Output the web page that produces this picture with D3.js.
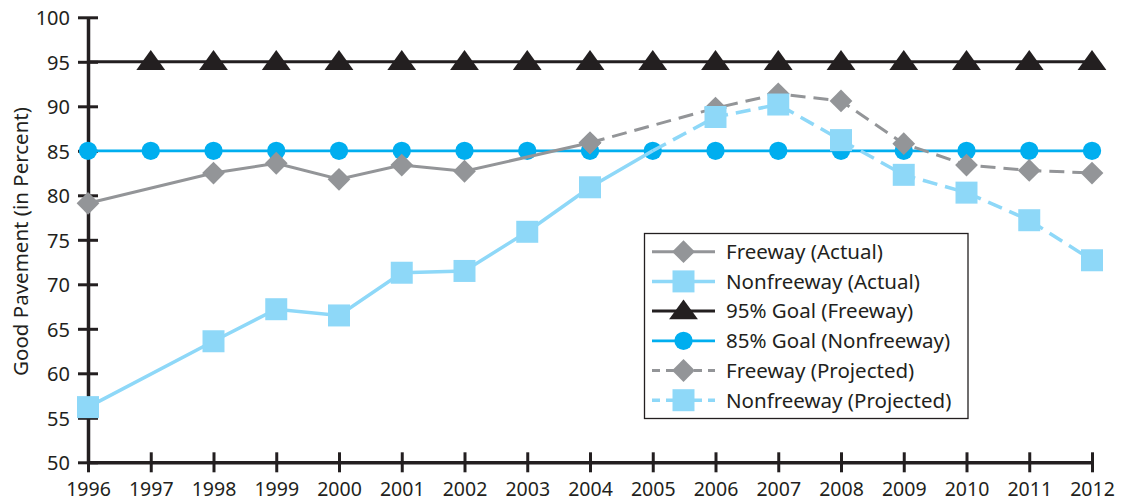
<!DOCTYPE html>
<html>
<head>
<meta charset="utf-8">
<script src="https://cdn.jsdelivr.net/npm/d3@7"></script>
<style>
  html, body { margin: 0; padding: 0; background: #ffffff; }
  svg { display: block; font-family: "Noto Sans", "Open Sans", sans-serif; }
</style>
</head>
<body>
<svg id="chart" width="1130" height="501"></svg>
<script>
// Year categories and tick labels
const yearTicks = [1996, 1997, 1998, 1999, 2000, 2001, 2002, 2003, 2004,
                   2005, 2006, 2007, 2008, 2009, 2010, 2011, 2012];
const percentTicks = [50, 55, 60, 65, 70, 75, 80, 85, 90, 95, 100];

// Freeway pavement in good condition
const freewayActualYears = [1996, 1998, 1999, 2000, 2001, 2002, 2004];
const freewayActual      = [79.1, 82.5, 83.6, 81.8, 83.4, 82.7, 85.9];
const freewayProjYears   = [2004, 2006, 2007, 2008, 2009, 2010, 2011, 2012];
const freewayProj        = [85.9, 89.8, 91.4, 90.6, 85.8, 83.4, 82.8, 82.5];

// Nonfreeway pavement in good condition
const nonfreewayActualYears = [1996, 1998, 1999, 2000, 2001, 2002, 2003, 2004, 2005];
const nonfreewayActual      = [56.2, 63.6, 67.2, 66.5, 71.3, 71.5, 75.9, 80.9, 85.0];
const nonfreewayProjYears   = [2005, 2006, 2007, 2008, 2009, 2010, 2011, 2012];
const nonfreewayProj        = [85.0, 88.8, 90.2, 86.2, 82.3, 80.3, 77.2, 72.7];
// the 2005 nonfreeway value is only a joining vertex, no marker is drawn there
const nonfreewayUnmarked = [2005];

// Goals
const goalLineYears = [1996, 2012];
const freewayGoalYears = [1997, 1998, 1999, 2000, 2001, 2002, 2003, 2004,
                          2005, 2006, 2007, 2008, 2009, 2010, 2011, 2012];
const freewayGoal = 95;
const nonfreewayGoalYears = [1996, 1997, 1998, 1999, 2000, 2001, 2002, 2003, 2004,
                             2005, 2006, 2007, 2008, 2009, 2010, 2011, 2012];
const nonfreewayGoal = 85;

const legendLabels = ["Freeway (Actual)", "Nonfreeway (Actual)", "95% Goal (Freeway)",
                      "85% Goal (Nonfreeway)", "Freeway (Projected)", "Nonfreeway (Projected)"];

const INK = "#231f20";
const GRAY = "#939598";
const LIGHT = "#8ed8f8";
const BLUE = "#00aeef";

const svg = d3.select("#chart");

const x = d3.scaleLinear().domain([1996, 2012]).range([88, 1092]);
const y = d3.scaleLinear().domain([50, 100]).range([462.3, 17.3]);

// marker shapes
const diamond = d3.symbol().type(d3.symbolSquare).size(260);
const square = d3.symbol().type(d3.symbolSquare).size(484);
const triangle = d3.symbol().type(d3.symbolTriangle).size(250);
const circle = d3.symbol().type(d3.symbolCircle).size(264);

function markerPath(kind, g, cx, cy, color) {
  if (kind === "diamond") {
    g.append("path").attr("d", diamond())
      .attr("transform", `translate(${cx},${cy}) rotate(45)`).attr("fill", color);
  } else if (kind === "square") {
    g.append("path").attr("d", square())
      .attr("transform", `translate(${cx},${cy})`).attr("fill", color);
  } else if (kind === "triangle") {
    g.append("path").attr("d", triangle())
      .attr("transform", `translate(${cx},${cy + 1.5}) scale(1.2,0.95)`).attr("fill", color);
  } else {
    g.append("path").attr("d", circle())
      .attr("transform", `translate(${cx},${cy})`).attr("fill", color);
  }
}

const line = d3.line().x(d => x(d[0])).y(d => y(d[1]));

function drawSeries(years, values, opts) {
  const g = svg.append("g");
  const pts = years.map((yr, i) => [yr, values[i]]);
  g.append("path").datum(pts).attr("d", line)
    .attr("fill", "none").attr("stroke", opts.color)
    .attr("stroke-width", opts.width)
    .attr("stroke-dasharray", opts.dash || null);
  pts.forEach(p => {
    if (opts.skip && opts.skip.includes(p[0])) return;
    markerPath(opts.marker, g, x(p[0]), y(p[1]), opts.color);
  });
}

// axes
const yAxis = svg.append("g").attr("transform", "translate(88,0)")
  .call(d3.axisLeft(y).tickValues(percentTicks).tickSizeOuter(0));
const xAxis = svg.append("g").attr("transform", `translate(0,${y(50)})`)
  .call(d3.axisBottom(x).tickValues(yearTicks).tickFormat(d3.format("d")).tickSizeOuter(0));

yAxis.select(".domain").attr("stroke", INK).attr("stroke-width", 3.5);
yAxis.selectAll(".tick line").attr("x1", -10).attr("x2", 10)
  .attr("stroke", INK).attr("stroke-width", 3);
yAxis.selectAll(".tick text").attr("x", -18).attr("dy", "0.36em")
  .attr("fill", INK).attr("font-size", 20);

xAxis.select(".domain").attr("stroke", INK).attr("stroke-width", 3.5);
xAxis.selectAll(".tick line").attr("y1", -10).attr("y2", 10)
  .attr("stroke", INK).attr("stroke-width", 3);
xAxis.selectAll(".tick text").attr("y", 27).attr("dy", "0.36em")
  .attr("fill", INK).attr("font-size", 19.5);
yAxis.attr("font-family", null);
xAxis.attr("font-family", null);

svg.append("text")
  .attr("transform", "translate(20.5,241.5) rotate(-90)")
  .attr("text-anchor", "middle").attr("dy", "0.36em")
  .attr("font-size", 20.5).attr("fill", INK)
  .text("Good Pavement (in Percent)");

// goals
drawSeries(goalLineYears, goalLineYears.map(() => freewayGoal),
  { color: INK, width: 3, marker: "triangle", skip: goalLineYears });
drawSeries(freewayGoalYears, freewayGoalYears.map(() => freewayGoal),
  { color: INK, width: 0, marker: "triangle" });
drawSeries(goalLineYears, goalLineYears.map(() => nonfreewayGoal),
  { color: BLUE, width: 2.8, marker: "circle", skip: goalLineYears });
drawSeries(nonfreewayGoalYears, nonfreewayGoalYears.map(() => nonfreewayGoal),
  { color: BLUE, width: 0, marker: "circle" });

// freeway
drawSeries(freewayActualYears, freewayActual, { color: GRAY, width: 3, marker: "diamond" });
drawSeries(freewayProjYears, freewayProj, { color: GRAY, width: 3, marker: "diamond", dash: "15,8" });

// nonfreeway
drawSeries(nonfreewayActualYears, nonfreewayActual,
  { color: LIGHT, width: 3.5, marker: "square", skip: nonfreewayUnmarked });
drawSeries(nonfreewayProjYears, nonfreewayProj,
  { color: LIGHT, width: 3.5, marker: "square", dash: "15,8", skip: nonfreewayUnmarked });

// legend
const legendStyles = [
  { color: GRAY, width: 3, marker: "diamond" },
  { color: LIGHT, width: 3.5, marker: "square" },
  { color: INK, width: 3, marker: "triangle" },
  { color: BLUE, width: 2.8, marker: "circle" },
  { color: GRAY, width: 3, marker: "diamond", dash: "8,6" },
  { color: LIGHT, width: 3.5, marker: "square", dash: "8,6" }
];
const lg = svg.append("g");
lg.append("rect").attr("x", 644.5).attr("y", 233.5).attr("width", 323.5).attr("height", 185)
  .attr("fill", "#ffffff").attr("stroke", INK).attr("stroke-width", 1.3);
legendLabels.forEach((label, i) => {
  const cy = 251.7 + i * 29.7;
  const st = legendStyles[i];
  lg.append("line").attr("x1", 652).attr("x2", 715).attr("y1", cy).attr("y2", cy)
    .attr("stroke", st.color).attr("stroke-width", st.width)
    .attr("stroke-dasharray", st.dash || null);
  markerPath(st.marker, lg, 683.5, cy, st.color);
  lg.append("text").attr("x", 726).attr("y", cy).attr("dy", "0.36em")
    .attr("font-size", 20.5).attr("fill", INK).text(label);
});
</script>
</body>
</html>
